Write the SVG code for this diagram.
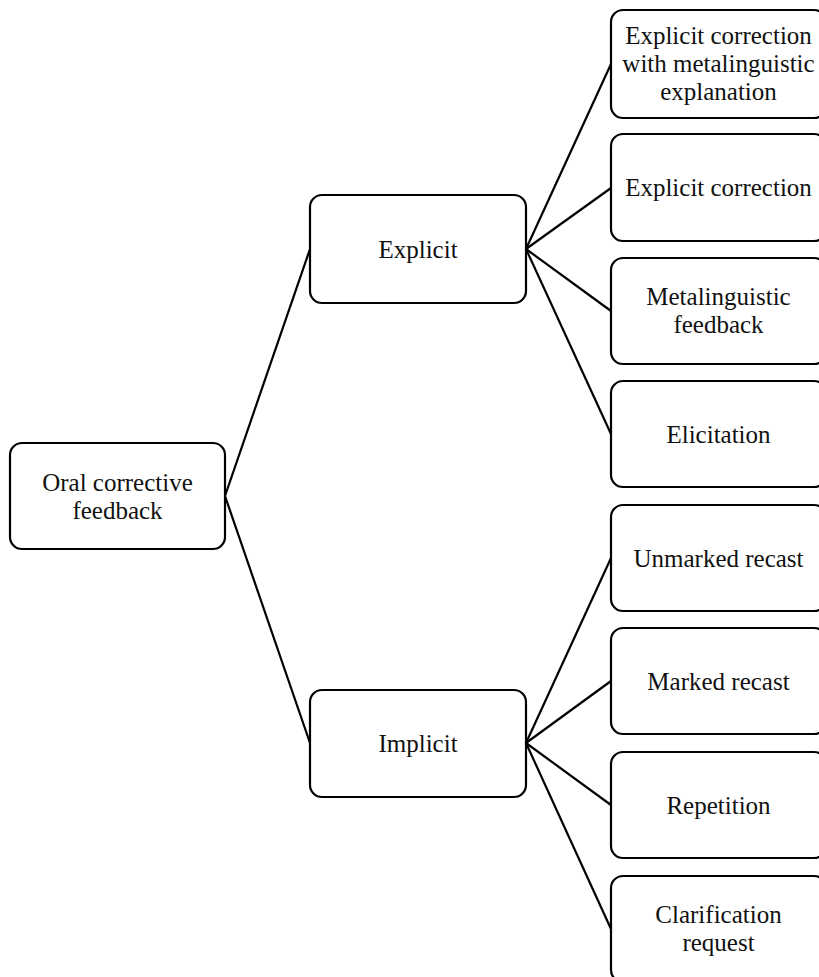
<svg xmlns="http://www.w3.org/2000/svg" width="819" height="977" viewBox="0 0 819 977">
<style>
.box{fill:#fff;stroke:#000;stroke-width:2.2}
.t{font-family:"Liberation Serif","Times New Roman",serif;font-size:25px;fill:#111;text-anchor:middle}
.c{stroke:#000;stroke-width:2.2;fill:none}
</style>
<rect width="819" height="977" fill="#fff"/>
<g id="connectors">
<line class="c" x1="225" y1="496" x2="310" y2="249"/>
<line class="c" x1="225" y1="496" x2="310" y2="743"/>
<line class="c" x1="526" y1="249" x2="611" y2="64"/>
<line class="c" x1="526" y1="249" x2="611" y2="188"/>
<line class="c" x1="526" y1="249" x2="611" y2="311"/>
<line class="c" x1="526" y1="249" x2="611" y2="434"/>
<line class="c" x1="526" y1="743" x2="611" y2="558"/>
<line class="c" x1="526" y1="743" x2="611" y2="681"/>
<line class="c" x1="526" y1="743" x2="611" y2="805"/>
<line class="c" x1="526" y1="743" x2="611" y2="929"/>
</g>
<g id="root"><rect class="box" x="10" y="443" width="215" height="106" rx="12"/><text class="t" x="117.5" y="491">Oral corrective</text><text class="t" x="117.5" y="519">feedback</text></g>
<g id="explicit"><rect class="box" x="310" y="195" width="216" height="108" rx="12"/><text class="t" x="418" y="258">Explicit</text></g>
<g id="implicit"><rect class="box" x="310" y="690" width="216" height="107" rx="12"/><text class="t" x="418" y="752">Implicit</text></g>
<g id="n1"><rect class="box" x="611" y="10" width="215" height="108" rx="12"/><text class="t" x="718.5" y="44">Explicit correction</text><text class="t" x="718.5" y="72">with metalinguistic</text><text class="t" x="718.5" y="100">explanation</text></g>
<g id="n2"><rect class="box" x="611" y="134" width="215" height="107" rx="12"/><text class="t" x="718.5" y="196">Explicit correction</text></g>
<g id="n3"><rect class="box" x="611" y="258" width="215" height="106" rx="12"/><text class="t" x="718.5" y="305">Metalinguistic</text><text class="t" x="718.5" y="333">feedback</text></g>
<g id="n4"><rect class="box" x="611" y="381" width="215" height="106" rx="12"/><text class="t" x="718.5" y="443">Elicitation</text></g>
<g id="n5"><rect class="box" x="611" y="505" width="215" height="106" rx="12"/><text class="t" x="718.5" y="567">Unmarked recast</text></g>
<g id="n6"><rect class="box" x="611" y="628" width="215" height="106" rx="12"/><text class="t" x="718.5" y="690">Marked recast</text></g>
<g id="n7"><rect class="box" x="611" y="752" width="215" height="106" rx="12"/><text class="t" x="718.5" y="814">Repetition</text></g>
<g id="n8"><rect class="box" x="611" y="876" width="215" height="106" rx="12"/><text class="t" x="718.5" y="923">Clarification</text><text class="t" x="718.5" y="951">request</text></g>
</svg>
